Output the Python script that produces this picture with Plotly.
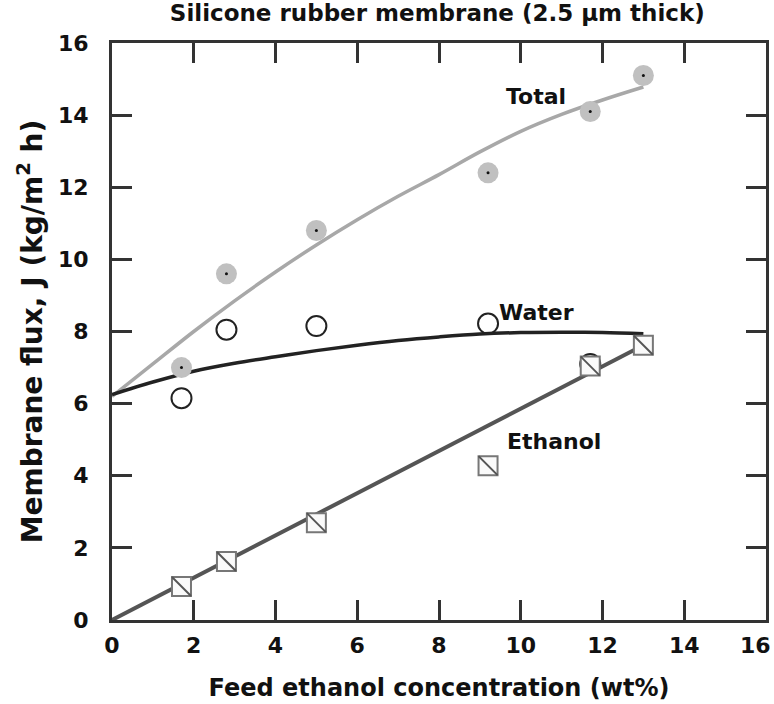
import plotly.graph_objects as go

# Measured data
conc = [1.7, 2.8, 5.0, 9.2, 11.7, 13.0]
total_flux = [7.0, 9.6, 10.8, 12.4, 14.1, 15.1]
water_conc = [1.7, 2.8, 5.0, 9.2, 11.7]
water_flux = [6.15, 8.05, 8.15, 8.22, 7.1]
ethanol_flux = [0.93, 1.62, 2.7, 4.28, 7.04, 7.62]

# Trend curves
fit_x = [0, 1, 2, 3, 4, 5, 6, 7, 8, 9, 10, 11, 12, 13]
total_fit = [6.2, 7.1, 8.0, 8.85, 9.65, 10.4, 11.1, 11.75, 12.35, 12.98, 13.55, 14.02, 14.42, 14.78]
water_fit = [6.25, 6.6, 6.9, 7.12, 7.3, 7.47, 7.62, 7.75, 7.85, 7.93, 7.97, 7.98, 7.97, 7.94]
ethanol_fit_x = [0, 13]
ethanol_fit = [0.0, 7.62]

ticks = [0, 2, 4, 6, 8, 10, 12, 14, 16]
# last x label is drawn as an edge-anchored annotation so it stays inside the page
x_tick_labels = ["0", "2", "4", "6", "8", "10", "12", "14", ""]
x_last_label = "16"
y_tick_labels = ["0", "2", "4", "6", "8", "10", "12", "14", "16"]

FONT = "DejaVu Sans, Verdana, sans-serif"
INK = "#111111"

fig = go.Figure()

# trend lines
fig.add_trace(go.Scatter(x=fit_x, y=total_fit, mode="lines",
                         line=dict(color="#a8a8a8", width=3.5, shape="spline"),
                         showlegend=False, hoverinfo="skip"))
fig.add_trace(go.Scatter(x=fit_x, y=water_fit, mode="lines",
                         line=dict(color="#222222", width=3.5, shape="spline"),
                         showlegend=False, hoverinfo="skip"))
fig.add_trace(go.Scatter(x=ethanol_fit_x, y=ethanol_fit, mode="lines",
                         line=dict(color="#555555", width=4),
                         showlegend=False, hoverinfo="skip"))

# water points (open circles)
fig.add_trace(go.Scatter(x=water_conc, y=water_flux, mode="markers",
                         marker=dict(symbol="circle-open", size=20,
                                     color="#222222", line=dict(width=2)),
                         showlegend=False))

# total points (grey filled circles with center dot)
fig.add_trace(go.Scatter(x=conc, y=total_flux, mode="markers",
                         marker=dict(symbol="circle", size=21, color="#c0c0c0",
                                     line=dict(width=0)),
                         showlegend=False))
fig.add_trace(go.Scatter(x=conc, y=total_flux, mode="markers",
                         marker=dict(symbol="circle", size=3, color="#111111",
                                     line=dict(width=0)),
                         showlegend=False, hoverinfo="skip"))

# ethanol points (squares with diagonal)
fig.add_trace(go.Scatter(x=conc, y=ethanol_flux, mode="markers",
                         marker=dict(symbol="square", size=19, color="#fafafa",
                                     line=dict(width=2, color="#777777")),
                         showlegend=False))
fig.add_trace(go.Scatter(x=conc, y=ethanol_flux, mode="markers",
                         marker=dict(symbol="line-nw", size=19,
                                     line=dict(width=2, color="#555555")),
                         showlegend=False, hoverinfo="skip"))

axis_common = dict(
    range=[0, 16], tickvals=ticks,
    ticks="inside", ticklen=20, tickwidth=3, tickcolor="#333333",
    showline=True, linewidth=3, linecolor="#333333", mirror="ticks",
    showgrid=False, zeroline=False, automargin=False,
    tickfont=dict(family=FONT, size=22, color=INK, weight="bold"),
)

fig.update_xaxes(**axis_common, ticktext=x_tick_labels, ticklabelstandoff=4,
                 title=dict(text="<b>Feed ethanol concentration (wt%)</b>",
                            font=dict(family=FONT, size=24, color=INK),
                            standoff=22))
fig.update_yaxes(**axis_common, ticktext=y_tick_labels, ticklabelstandoff=16,
                 title=dict(text="<b>Membrane flux, J (kg/m<sup>2</sup> h)</b>",
                            font=dict(family=FONT, size=28, color=INK),
                            standoff=8))

fig.add_annotation(x=ticks[-1], xref="x", y=0, yref="paper",
                   text=f"<b>{x_last_label}</b>", showarrow=False,
                   xanchor="right", yanchor="middle", xshift=7, yshift=-25,
                   font=dict(family=FONT, size=22, color=INK))

annots = [
    dict(x=10.38, y=14.53, text="<b>Total</b>"),
    dict(x=10.38, y=8.52, text="<b>Water</b>"),
    dict(x=10.82, y=4.96, text="<b>Ethanol</b>"),
]
for a in annots:
    fig.add_annotation(x=a["x"], y=a["y"], text=a["text"], showarrow=False,
                       xanchor="center", yanchor="middle",
                       font=dict(family=FONT, size=22, color=INK))

fig.update_layout(
    width=774, height=704,
    margin=dict(l=112, r=8, t=43, b=84),
    paper_bgcolor="white", plot_bgcolor="white",
    title=dict(text="<b>Silicone rubber membrane (2.5 μm thick)</b>",
               x=0.565, xanchor="center", y=0.9815, yanchor="middle",
               font=dict(family=FONT, size=23, color=INK)),
)

fig.write_html("out.html",
               config={"displayModeBar": False},
               post_script="document.body.style.margin='0';")
